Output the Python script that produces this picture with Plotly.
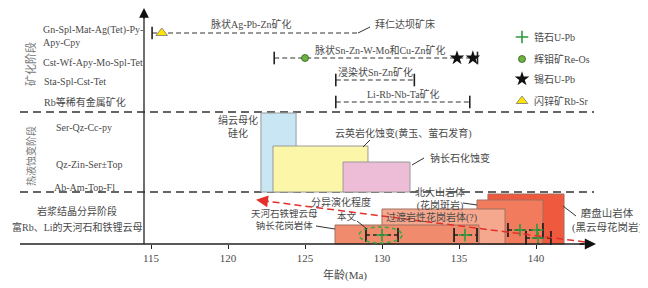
import plotly.graph_objects as go

# ---------------- data (ages in Ma) ----------------
ore_stage_labels = ["Gn-Spl-Mat-Ag(Tet)-Py-", "Apy-Cpy", "Cst-Wf-Apy-Mo-Spl-Tet", "Sta-Spl-Cst-Tet", "Rb等稀有金属矿化"]
alt_stage_labels = ["Ser-Qz-Cc-py", "Qz-Zin-Ser±Top", "Ab-Am-Top-Fl"]
magma_stage_labels = ["岩浆结晶分异阶段", "富Rb、Li的天河石和铁锂云母"]
section_labels = ["矿化阶段", "热液蚀变阶段"]

ore_names = ["脉状Ag-Pb-Zn矿化", "脉状Sn-Zn-W-Mo和Cu-Zn矿化", "浸染状Sn-Zn矿化", "Li-Rb-Nb-Ta矿化"]
ore_start = [115.07, 123.0, 127.0, 127.0]
ore_end = [128.4, 136.2, 132.1, 135.7]
ore_end_cap = [False, True, True, True]
deposit_name = "拜仁达坝矿床"

sphalerite_rbsr = [115.7]          # row 1
molybdenite_reos = [125.0]         # row 2
cassiterite_upb = [134.87, 135.9]  # row 2

alt_names = ["绢云母化<br>硅化", "云英岩化蚀变(黄玉、萤石发育)", "钠长石化蚀变"]
alt_start = [122.14, 122.92, 127.47]
alt_end = [124.42, 129.09, 131.82]

intr_names = ["磨盘山岩体<br>(黑云母花岗岩)", "北大山岩体<br>(花岗斑岩)", "过渡岩性花岗岩体(?)", "天河石铁锂云母<br>钠长花岗岩体"]
intr_start = [136.88, 136.17, 130.0, 126.95]
intr_end = [141.82, 140.45, 137.99, 136.3]

zr_lo = [128.96, 134.68, 138.18, 139.35]
zr_hi = [131.04, 136.17, 140.45, 140.97]
zr_age = [[130.0], [135.39], [138.96, 140.06], [140.13]]
this_study = [128.51, 131.30]

legend_labels = ["锆石U-Pb", "辉钼矿Re-Os", "锡石U-Pb", "闪锌矿Rb-Sr"]
x_ticks = [115, 120, 125, 130, 135, 140]
x_title = "年龄(Ma)"
trend_label = "分异演化程度"
this_label = "本文"

# ---------------- layout helpers (page pixel -> data) ----------------
# the page body has an 8px margin, so the figure starts at page pixel (8, 8)
OFF = 8
X0, K, BASE = 105.195, 15.4, 244
def X(px): return X0 + px / K
def Y(py): return BASE - py

SERIF = "Liberation Serif, 'Noto Sans CJK SC', serif"
TXT = "#4a4a4a"

fig = go.Figure()
shapes = []
ann = []

def text(px, py, s, size=10, anchor="center", color=TXT, angle=0):
    ann.append(dict(x=X(px), y=Y(py), xref="x", yref="y", text=s, showarrow=False,
                    xanchor=anchor, yanchor="middle", textangle=angle,
                    font=dict(family=SERIF, size=size, color=color)))

def seg(x0, y0, x1, y1, color="#333", width=1, dash=None, layer="above"):
    shapes.append(dict(type="line", xref="x", yref="y", x0=x0, y0=y0, x1=x1, y1=y1,
                       line=dict(color=color, width=width, dash=dash), layer=layer))

# separators
for py in (112, 192):
    seg(X(20), Y(py), X(594), Y(py), color="#333", width=1.6, dash="8px,5px", layer="below")

# alteration rectangles
alt_top = [113, 146, 162]
alt_fill = ["#c9e6f4", "#fbf6a8", "#edbdd8"]
for i in range(3):
    shapes.append(dict(type="rect", xref="x", yref="y", x0=alt_start[i], x1=alt_end[i],
                       y0=Y(192), y1=Y(alt_top[i]), fillcolor=alt_fill[i],
                       line=dict(color="#9a9a9a", width=1), layer="below"))

# intrusion rectangles
intr_top = [194, 200, 209, 225]
intr_fill = ["#ef5a3e", "#f27a5d", "#f6a88e", "#f18b6d"]
for i in range(4):
    shapes.append(dict(type="rect", xref="x", yref="y", x0=intr_start[i], x1=intr_end[i],
                       y0=Y(244), y1=Y(intr_top[i]), fillcolor=intr_fill[i],
                       line=dict(color="#a07060", width=1), layer="below"))

# axes lines
seg(X(144), Y(244), X(144), Y(14), color="#222", width=1.3)
seg(X(20), Y(244), X(584), Y(244), color="#222", width=1.3)
ann.append(dict(x=X(144), y=Y(8), ax=X(144), ay=Y(20), xref="x", yref="y", axref="x", ayref="y",
                text="", showarrow=True, arrowhead=2, arrowsize=1.4, arrowwidth=1.4, arrowcolor="#111"))
ann.append(dict(x=X(596), y=Y(244), ax=X(578), ay=Y(244), xref="x", yref="y", axref="x", ayref="y",
                text="", showarrow=True, arrowhead=2, arrowsize=1.6, arrowwidth=1.4, arrowcolor="#111"))

# ore stage dashed lines
ore_y = [Y(33), Y(58), Y(80), Y(102)]
for i in range(4):
    fig.add_trace(go.Scatter(x=[ore_start[i], ore_end[i]], y=[ore_y[i]] * 2, mode="lines",
                             line=dict(color="#333", width=1.2, dash="5px,3px"), hoverinfo="skip"))
    caps = [ore_start[i]] + ([ore_end[i]] if ore_end_cap[i] else [])
    fig.add_trace(go.Scatter(x=caps, y=[ore_y[i]] * len(caps), mode="markers",
                             marker=dict(symbol="line-ns", size=9, line=dict(color="#222", width=1.6)),
                             hoverinfo="skip"))

fig.add_trace(go.Scatter(x=sphalerite_rbsr, y=[ore_y[0]], mode="markers",
                         marker=dict(symbol="triangle-up", size=10, color="#ffe400",
                                     line=dict(color="#777", width=0.8))))
fig.add_trace(go.Scatter(x=molybdenite_reos, y=[ore_y[1]], mode="markers",
                         marker=dict(symbol="circle", size=7, color="#6db33f",
                                     line=dict(color="#2d5e1e", width=0.8))))
fig.add_trace(go.Scatter(x=cassiterite_upb, y=[ore_y[1]] * 2, mode="markers",
                         marker=dict(symbol="star", size=11, color="#111")))

# zircon error bars
zr_y = [Y(235), Y(235), Y(230), Y(238)]
for i in range(4):
    fig.add_trace(go.Scatter(x=[zr_lo[i], zr_hi[i]], y=[zr_y[i]] * 2, mode="lines",
                             line=dict(color="#222", width=1.3, dash="4px,3px")))
    fig.add_trace(go.Scatter(x=[zr_lo[i], zr_hi[i]], y=[zr_y[i]] * 2, mode="markers",
                             marker=dict(symbol="line-ns", size=10, line=dict(color="#222", width=1.8))))
    fig.add_trace(go.Scatter(x=zr_age[i], y=[zr_y[i]] * len(zr_age[i]), mode="markers",
                             marker=dict(symbol="cross-thin", size=9, line=dict(color="#2e9a3c", width=1.6))))

# this study ellipse
shapes.append(dict(type="circle", xref="x", yref="y", x0=this_study[0], x1=this_study[1],
                   y0=Y(243), y1=Y(227), line=dict(color="#3aa844", width=1.5, dash="4px,3px")))

# red trend arrow
fig.add_trace(go.Scatter(x=[X(585), X(262)], y=[Y(242), Y(200.6)], mode="lines",
                         line=dict(color="#e5302a", width=1.5, dash="7px,4px")))
ann.append(dict(x=X(256), y=Y(199.8), ax=X(270), ay=Y(201.6), xref="x", yref="y", axref="x", ayref="y",
                text="", showarrow=True, arrowhead=2, arrowsize=1.5, arrowwidth=1.6, arrowcolor="#e5302a"))

# legend
leg_y = [37, 59, 79, 101]
fig.add_trace(go.Scatter(x=[X(522)], y=[Y(leg_y[0])], mode="markers",
                         marker=dict(symbol="cross-thin", size=9, line=dict(color="#2e9a3c", width=1.6))))
fig.add_trace(go.Scatter(x=[X(522)], y=[Y(leg_y[1])], mode="markers",
                         marker=dict(symbol="circle", size=7, color="#6db33f", line=dict(color="#2d5e1e", width=0.8))))
fig.add_trace(go.Scatter(x=[X(522)], y=[Y(leg_y[2])], mode="markers",
                         marker=dict(symbol="star", size=11, color="#111")))
fig.add_trace(go.Scatter(x=[X(522)], y=[Y(leg_y[3])], mode="markers",
                         marker=dict(symbol="triangle-up", size=10, color="#ffe400", line=dict(color="#777", width=0.8))))
for lab, py in zip(legend_labels, leg_y):
    text(532, py, lab, anchor="left")

# left stage labels
text(41, 30, ore_stage_labels[0], 10, "left")
text(41, 42, ore_stage_labels[1], 10, "left")
text(41, 62, ore_stage_labels[2], 10, "left")
text(42, 81, ore_stage_labels[3], 10, "left")
text(42, 102, ore_stage_labels[4], 10, "left")
text(54, 127, alt_stage_labels[0], 10, "left")
text(54, 164, alt_stage_labels[1], 10, "left")
text(52, 187, alt_stage_labels[2], 10, "left")
text(77, 211, magma_stage_labels[0], 10)
text(77, 227, magma_stage_labels[1], 10)
text(30, 64, section_labels[0], 11, angle=-90, color="#777")
text(31, 156, section_labels[1], 10, angle=-90, color="#777")

# ore labels
text(251, 24, ore_names[0])
text(380, 50, ore_names[1])
text(375, 72, ore_names[2])
text(403, 94, ore_names[3])
text(373, 24, deposit_name, anchor="left")
seg(X(358), Y(33), X(370), Y(27), width=1)

# alteration labels
text(238, 126, alt_names[0], 10)
text(333, 133, alt_names[1], 10, "left")
seg(X(363), Y(147), X(370), Y(140), width=1)
text(428, 158, alt_names[2], 10, "left")
seg(X(412), Y(165), X(424), Y(158), width=1)

# intrusion labels
text(607, 220, intr_names[0], 10.5)
seg(X(563), Y(206), X(576), Y(216), width=1)
text(440, 199, intr_names[1], 10)
seg(X(463), Y(203), X(477), Y(205), width=1)
text(431, 217, intr_names[2], 10)
text(284, 219, intr_names[3], 9.5)
seg(X(316), Y(226), X(335), Y(229), width=1)
text(347, 216, this_label, 9.5)
seg(X(357), Y(221), X(367), Y(229), width=1)
text(341, 202, trend_label, 10)

# axis title
text(345, 275, x_title, 11)

fig.update_layout(
    width=648 - OFF, height=288 - OFF, margin=dict(l=0, r=0, t=0, b=0),
    paper_bgcolor="white", plot_bgcolor="white", showlegend=False,
    shapes=shapes, annotations=ann,
    xaxis=dict(range=[X(OFF), X(648)], showgrid=False, zeroline=False, showline=False,
               tickvals=x_ticks, ticks="outside", ticklen=4, tickwidth=1.2, tickcolor="#222",
               tickfont=dict(family=SERIF, size=11, color=TXT),
               anchor="free", position=44 / (288 - OFF)),
    yaxis=dict(range=[Y(288), Y(OFF)], visible=False),
)
fig.write_html("out.html")
